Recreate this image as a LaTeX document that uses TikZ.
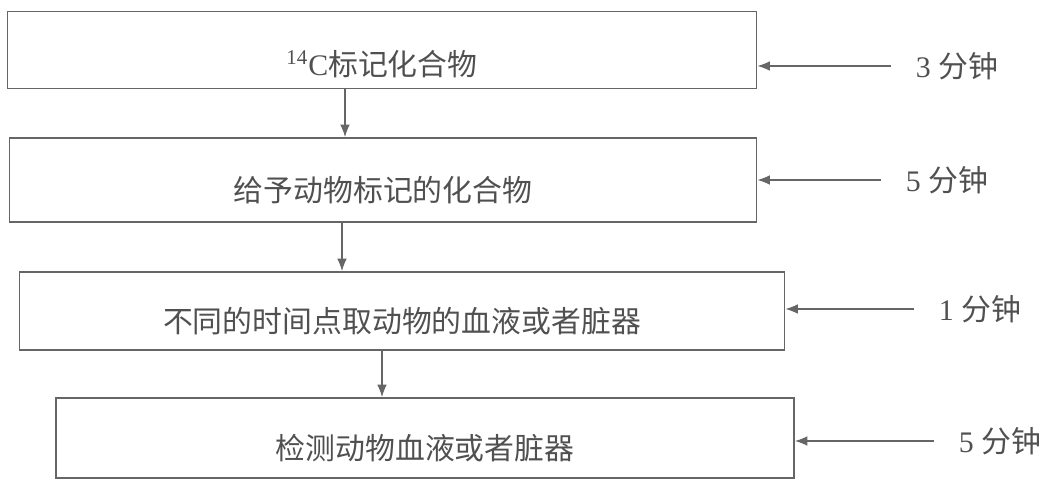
\documentclass[tikz,border=0pt]{standalone}
\usepackage{fontspec}
\setmainfont{Liberation Serif}
\newfontfamily\cjk{Noto Sans CJK SC}
\usetikzlibrary{arrows.meta}
\usetikzlibrary{calc}
\definecolor{inkgray}{HTML}{505050}
\definecolor{linegray}{HTML}{666666}

\begin{document}
\begin{tikzpicture}[x=0.02cm,y=-0.02cm,
  stepbox/.style={draw=linegray, line width=1.1pt, rectangle, inner sep=0pt, text=inkgray, text height=26pt, text depth=2pt, font=\fontsize{17}{20}\selectfont\cjk},
  timelbl/.style={inner sep=0pt, text=inkgray, font=\fontsize{17}{20}\selectfont},
  flow/.style={-{Latex[length=7pt,width=5.5pt]}, draw=linegray, line width=0.7pt}]
	 % one pixel of the page
	 \def\px{0.02cm}
	 \useasboundingbox (0,0) rectangle (1047,482);

	 % the four steps, top to bottom
	 \node[stepbox, text height=31pt, minimum width=749*\px, minimum height=77*\px] (b1) at (382,50) {{\rmfamily\textsuperscript{14}C}标记化合物};
	 \node[stepbox, minimum width=747*\px, minimum height=84*\px] (b2) at (383,180) {给予动物标记的化合物};
	 \node[stepbox, minimum width=765*\px, minimum height=78*\px] (b3) at (402,311) {不同的时间点取动物的血液或者脏器};
	 \node[stepbox, minimum width=738*\px, minimum height=80*\px] (b4) at (425,438) {检测动物血液或者脏器};

	 % downward arrows between the steps
	 \draw[flow] (b1.south -| 345,0) -- (b2.north -| 345,0);
	 \draw[flow] (b2.south -| 342,0) -- (b3.north -| 342,0);
	 \draw[flow] (b3.south -| 382,0) -- (b4.north -| 382,0);

	 % time of each step, with its arrow into the box
	 \foreach \i/\m/\x/\y in {1/3/957/66, 2/5/947/180, 3/1/980/309, 4/5/1000/441} {
	 	\node[timelbl] (t\i) at (\x,\y) {\m\ {\cjk 分钟}};
	 	\draw[flow, shorten <=0.5cm] (t\i.west) -- (t\i.west -| b\i.east);
	 }
\end{tikzpicture}
\end{document}
